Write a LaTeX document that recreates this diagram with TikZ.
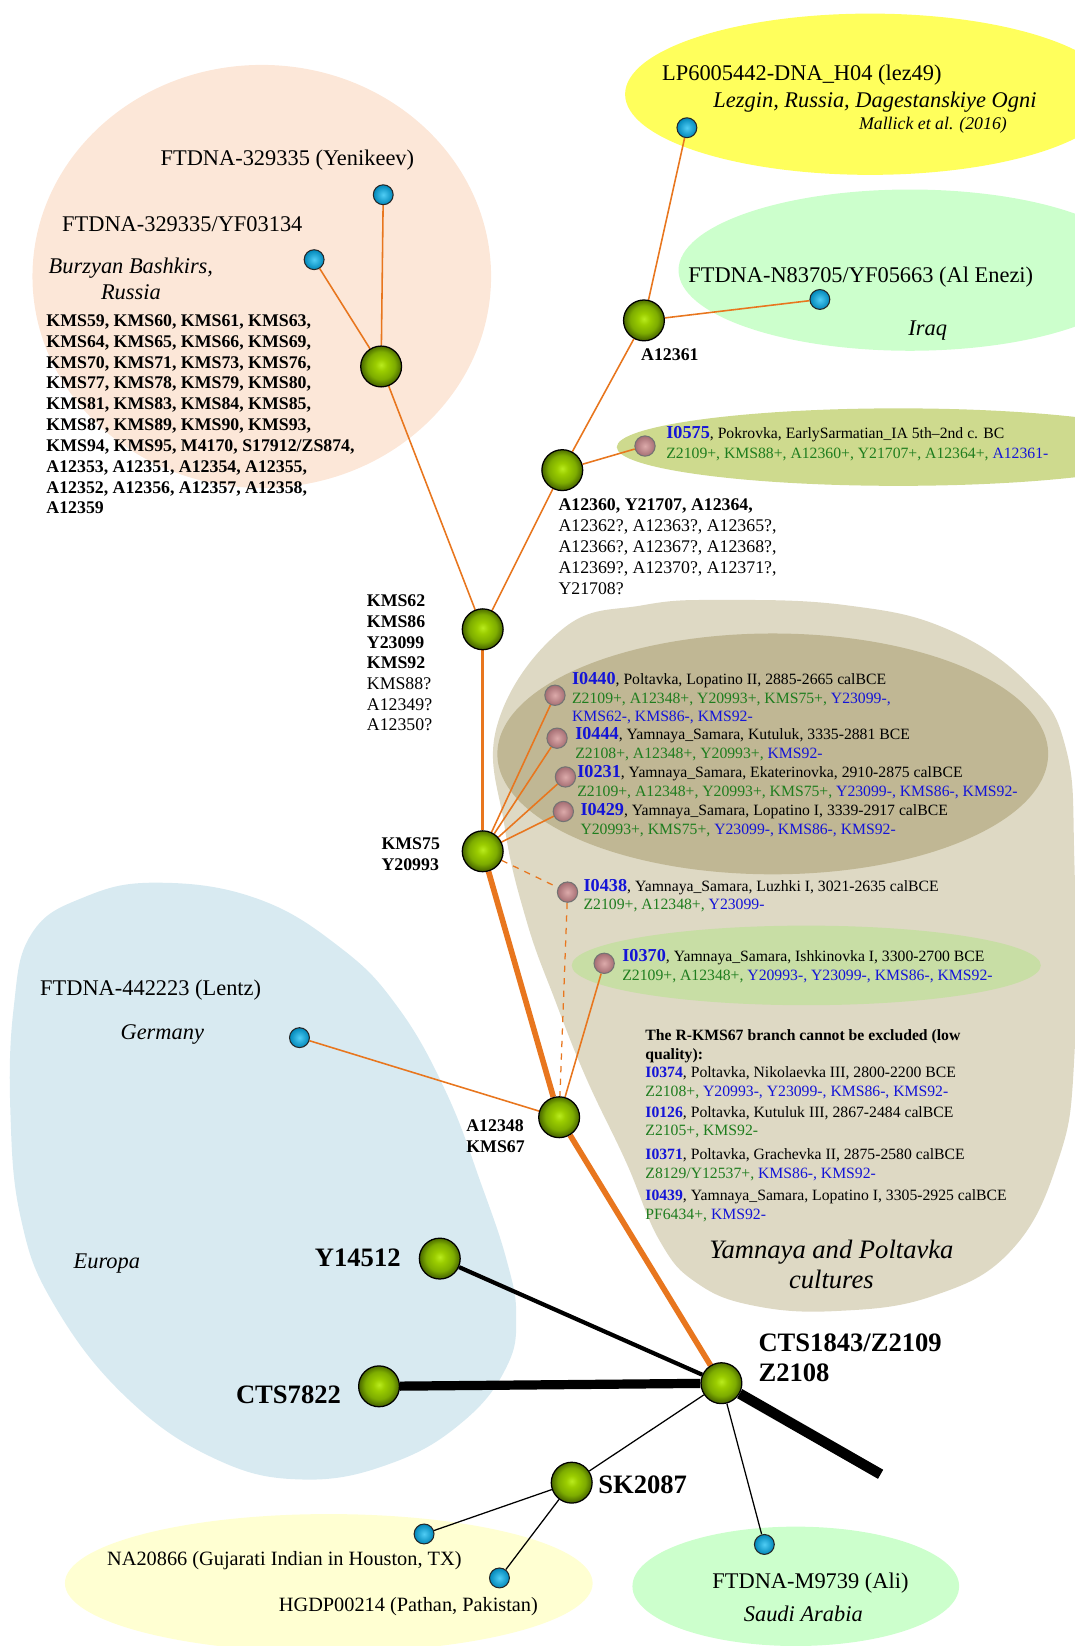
\documentclass[tikz,border=0pt]{standalone}
\usepackage{fontspec}
\setmainfont{Liberation Serif}
\usetikzlibrary{positioning}
\usetikzlibrary{backgrounds}
\pgfdeclarelayer{edges}
\pgfsetlayers{background,edges,main}

\definecolor{peachbg}{RGB}{252,231,216}
\definecolor{lemonbg}{RGB}{255,255,92}
\definecolor{mintbg}{RGB}{204,255,204}
\definecolor{olivebg}{RGB}{206,218,142}
\definecolor{tanbg}{RGB}{222,217,196}
\definecolor{tandark}{RGB}{192,183,148}
\definecolor{sagebg}{RGB}{200,222,165}
\definecolor{skybg}{RGB}{216,234,241}
\definecolor{creambg}{RGB}{255,255,210}
\definecolor{edgeorange}{RGB}{232,118,30}
\definecolor{idblue}{RGB}{20,20,215}
\definecolor{posgreen}{RGB}{30,125,30}
\definecolor{ballhi}{RGB}{185,235,30}
\definecolor{ballmid}{RGB}{155,205,0}
\definecolor{balllow}{RGB}{125,172,0}
\definecolor{balldark}{RGB}{72,102,0}
\definecolor{tiphi}{RGB}{80,205,245}
\definecolor{tipdark}{RGB}{0,135,185}
\definecolor{adnahi}{RGB}{220,170,170}
\definecolor{adnadark}{RGB}{165,110,115}

\pgfdeclareradialshading{greenball}{\pgfpoint{0bp}{2bp}}{color(0bp)=(ballhi); color(7bp)=(ballmid); color(17bp)=(balllow); color(25bp)=(balldark); color(50bp)=(balldark)}
\pgfdeclareradialshading{blueball}{\pgfpoint{0bp}{0bp}}{color(0bp)=(tiphi); color(25bp)=(tipdark); color(50bp)=(tipdark)}
\pgfdeclareradialshading{pinkball}{\pgfpoint{0bp}{0bp}}{color(0bp)=(adnahi); color(25bp)=(adnadark); color(50bp)=(adnadark)}

\newcommand{\sid}[1]{{\fontsize{8.7}{8.7}\selectfont\bfseries\textcolor{idblue}{#1}}}
\newcommand{\lid}[1]{\textbf{\textcolor{idblue}{#1}}}
\newcommand{\possnp}[1]{\textcolor{posgreen}{#1}}
\newcommand{\negsnp}[1]{\textcolor{idblue}{#1}}

\tikzstyle{hap} = [circle, draw=black, line width=0.6pt, minimum size=19.5pt, inner sep=0pt, shading=greenball]
\tikzstyle{tip} = [circle, draw=black!85, line width=0.5pt, minimum size=9.5pt, inner sep=0pt, shading=blueball]
\tikzstyle{adna} = [circle, draw=black!55, line width=0.5pt, minimum size=9.7pt, inner sep=0pt, shading=pinkball]
\tikzstyle{lbl} = [inner sep=0pt, font=\fontsize{10.7}{12.5}\selectfont]
\tikzstyle{place} = [inner sep=0pt, font=\itshape\fontsize{10.7}{12.5}\selectfont]
\tikzstyle{lowlbl} = [inner sep=0pt, font=\fontsize{9.7}{11}\selectfont]
\tikzstyle{snps} = [inner sep=0pt, align=left, anchor=north west, font=\fontsize{8.5}{9.9}\selectfont]
\tikzstyle{smp} = [inner sep=0pt, align=left, anchor=north west, font=\fontsize{7.5}{9}\selectfont]
\tikzstyle{hubl} = [inner sep=0pt, font=\bfseries\fontsize{12.7}{14.5}\selectfont]
\tikzstyle{twig} = [draw=edgeorange, line width=0.75pt]
\tikzstyle{stem} = [draw=edgeorange, line width=1.5pt]
\tikzstyle{trunk} = [draw=edgeorange, line width=2.7pt]
\tikzstyle{maybe} = [draw=edgeorange, line width=0.6pt, dashed]
\tikzstyle{thin} = [draw=black, line width=0.6pt]

\begin{document}
\begin{tikzpicture}[x=0.5pt,y=-0.5pt]
  \useasboundingbox (0,0) rectangle (1026,1572);

  % regions
  \begin{pgfonlayer}{background}
    \fill[peachbg] (250,264) ellipse [x radius=219, y radius=202];
    \fill[lemonbg] (831,90) ellipse [x radius=234, y radius=77];
    \fill[mintbg] (869,258) ellipse [x radius=221, y radius=77];
    \fill[olivebg] (858,427) ellipse [x radius=269, y radius=37];
    \fill[tanbg] plot[smooth cycle, tension=0.7] coordinates {
      (475,692) (537,601) (614,578) (692,573) (808,578) (905,601) (983,654)
      (1018,715) (1026,820) (1026,1010) (1010,1110) (965,1195) (890,1238)
      (800,1252) (720,1247) (665,1225) (630,1185) (598,1110) (560,1030)
      (530,955) (503,880) (482,790)};
    \fill[tandark] (738,720) ellipse [x radius=263, y radius=115];
    \fill[sagebg] (770,922) ellipse [x radius=224, y radius=38];
    \fill[skybg] plot[smooth cycle, tension=0.7] coordinates {
      (150,843) (80,857) (30,892) (13,963) (10,1064) (20,1164) (51,1245)
      (119,1333) (205,1393) (290,1413) (375,1397) (443,1357) (484,1305)
      (493,1256) (484,1204) (460,1132) (426,1043) (380,962) (325,905) (245,858)};
    \fill[creambg] (314,1512) ellipse [x radius=252, y radius=66];
    \fill[mintbg] (760,1515) ellipse [x radius=156, y radius=57];
  \end{pgfonlayer}

  % haplogroup nodes
  \node[hap] (bash) at (364,350) {};
  \node[hap] (a12361) at (615,306) {};
  \node[hap] (a12360) at (537,449) {};
  \node[hap] (kms62) at (461,601) {};
  \node[hap] (kms75) at (461,813) {};
  \node[hap] (a12348) at (534,1067) {};
  \node[hap] (y14512) at (420,1202) {};
  \node[hap] (cts7822) at (362,1324) {};
  \node[hap] (root) at (689,1321) {};
  \node[hap] (sk2087) at (546,1416) {};
  \coordinate (tailend) at (841,1408);

  % modern samples
  \node[tip] (yenikeev) at (366,186) {};
  \node[tip] (yf03134) at (300,248) {};
  \node[tip] (lezgin) at (656,122) {};
  \node[tip] (alenezi) at (783,286) {};
  \node[tip] (lentz) at (286,991) {};
  \node[tip] (na20866) at (405,1465) {};
  \node[tip] (hgdp) at (477,1507) {};
  \node[tip] (ali) at (730,1475) {};

  % ancient samples
  \node[adna] (i0575) at (616,426) {};
  \node[adna] (i0440) at (530,664) {};
  \node[adna] (i0444) at (532,705) {};
  \node[adna] (i0231) at (540,742) {};
  \node[adna] (i0429) at (538,775) {};
  \node[adna] (i0438) at (542,852) {};
  \node[adna] (i0370) at (577,920) {};

  \begin{pgfonlayer}{edges}
    \draw[twig] (bash) -- (yenikeev);
    \draw[twig] (bash) -- (yf03134);
    \draw[twig] (bash) -- (kms62);
    \draw[twig] (kms62) -- (a12360);
    \draw[twig] (a12360) -- (a12361);
    \draw[twig] (a12361) -- (lezgin);
    \draw[twig] (a12361) -- (alenezi);
    \draw[twig] (a12360) -- (i0575);
    \draw[stem] (kms62) -- (kms75);
    \draw[twig] (kms75) -- (i0440);
    \draw[twig] (kms75) -- (i0444);
    \draw[twig] (kms75) -- (i0231);
    \draw[twig] (kms75) -- (i0429);
    \draw[maybe] (kms75) -- (i0438);
    \draw[maybe] (i0438) -- (a12348);
    \draw[twig] (i0370) -- (a12348);
    \draw[twig] (lentz) -- (a12348);
    \draw[trunk] (kms75) -- (a12348);
    \draw[trunk] (a12348) -- (root);
    \draw[black, line width=2pt] (y14512) -- (root);
    \draw[black, line width=4.4pt] (cts7822) -- (root);
    \draw[black, line width=5pt] (root) -- (tailend);
    \draw[thin] (root) -- (sk2087);
    \draw[thin] (root) -- (ali);
    \draw[thin] (sk2087) -- (na20866);
    \draw[thin] (sk2087) -- (hgdp);
  \end{pgfonlayer}

  % Bashkir cluster
  \node[lbl, anchor=base west] (yenikeevlbl) at (153,158) {FTDNA-329335 (Yenikeev)};
  \node[lbl, anchor=base west] (yf03134lbl) at (59,221) {FTDNA-329335/YF03134};
  \node[place, align=center, anchor=north] (bashplace) at (125,246) {Burzyan Bashkirs,\\Russia};
  \node[snps, font=\bfseries\fontsize{8.5}{9.95}\selectfont] (bashsnps) at (44,300) {KMS59, KMS60, KMS61, KMS63,\\KMS64, KMS65, KMS66, KMS69,\\KMS70, KMS71, KMS73, KMS76,\\KMS77, KMS78, KMS79, KMS80,\\KMS81, KMS83, KMS84, KMS85,\\KMS87, KMS89, KMS90, KMS93,\\KMS94, KMS95, M4170, S17912/ZS874,\\A12353, A12351, A12354, A12355,\\A12352, A12356, A12357, A12358,\\A12359};

  % Caucasus and Iraq
  \node[lbl, anchor=base west] (lezginlbl) at (632,77) {LP6005442-DNA\_H04 (lez49)};
  \node[place, anchor=base west] (lezginplace) at (681,103) {Lezgin, Russia, Dagestanskiye Ogni};
  \node[inner sep=0pt, anchor=base west, font=\itshape\fontsize{8.5}{10}\selectfont] (mallick) at (820,124) {Mallick et al. (2016)};
  \node[lbl, anchor=base west] (alenezilbl) at (657,270) {FTDNA-N83705/YF05663 (Al Enezi)};
  \node[place, anchor=base] (iraq) at (886,320) {Iraq};
  \node[snps, anchor=base west, font=\bfseries\fontsize{8.5}{9.9}\selectfont] (a12361lbl) at (612,344) {A12361};
  \node[smp, font=\fontsize{7.5}{9.5}\selectfont] (i0575lbl) at (636,407) {\sid{I0575}, Pokrovka, EarlySarmatian\_IA 5th--2nd c. BC\\\possnp{Z2109+, KMS88+, A12360+, Y21707+, A12364+,} \negsnp{A12361-}};
  \node[snps, font=\fontsize{8.5}{10}\selectfont] (a12360lbl) at (533,476) {\textbf{A12360, Y21707, A12364,}\\A12362?, A12363?, A12365?,\\A12366?, A12367?, A12368?,\\A12369?, A12370?, A12371?,\\Y21708?};
  \node[snps, font=\fontsize{8.5}{9.85}\selectfont] (kms62lbl) at (350,568) {\textbf{KMS62}\\\textbf{KMS86}\\\textbf{Y23099}\\\textbf{KMS92}\\KMS88?\\A12349?\\A12350?};
  \node[snps, font=\bfseries\fontsize{8.5}{10}\selectfont] (kms75lbl) at (364,800) {KMS75\\Y20993};

  % Yamnaya and Poltavka
  \node[smp, font=\fontsize{7.5}{8.75}\selectfont] (i0440lbl) at (546,642) {\sid{I0440}, Poltavka, Lopatino II, 2885-2665 calBCE\\\possnp{Z2109+, A12348+, Y20993+, KMS75+,} \negsnp{Y23099-,}\\\negsnp{KMS62-, KMS86-, KMS92-}};
  \node[smp] (i0444lbl) at (549,694) {\sid{I0444}, Yamnaya\_Samara, Kutuluk, 3335-2881 BCE\\\possnp{Z2108+, A12348+, Y20993+,} \negsnp{KMS92-}};
  \node[smp] (i0231lbl) at (551,731) {\sid{I0231}, Yamnaya\_Samara, Ekaterinovka, 2910-2875 calBCE\\\possnp{Z2109+, A12348+, Y20993+, KMS75+,} \negsnp{Y23099-, KMS86-, KMS92-}};
  \node[smp] (i0429lbl) at (554,767) {\sid{I0429}, Yamnaya\_Samara, Lopatino I, 3339-2917 calBCE\\\possnp{Y20993+, KMS75+,} \negsnp{Y23099-, KMS86-, KMS92-}};
  \node[smp] (i0438lbl) at (557,839) {\sid{I0438}, Yamnaya\_Samara, Luzhki I, 3021-2635 calBCE\\\possnp{Z2109+, A12348+,} \negsnp{Y23099-}};
  \node[smp] (i0370lbl) at (594,906) {\sid{I0370}, Yamnaya\_Samara, Ishkinovka I, 3300-2700 BCE\\\possnp{Z2109+, A12348+,} \negsnp{Y20993-, Y23099-, KMS86-, KMS92-}};
  \node[smp, font=\bfseries\fontsize{7.5}{9}\selectfont] (lowq) at (616,983) {The R-KMS67 branch cannot be excluded (low\\quality):};
  \node[smp] (i0374lbl) at (616,1018) {\lid{I0374}, Poltavka, Nikolaevka III, 2800-2200 BCE\\\possnp{Z2108+,} \negsnp{Y20993-, Y23099-, KMS86-, KMS92-}};
  \node[smp] (i0126lbl) at (616,1056) {\lid{I0126}, Poltavka, Kutuluk III, 2867-2484 calBCE\\\possnp{Z2105+, KMS92-}};
  \node[smp] (i0371lbl) at (616,1097) {\lid{I0371}, Poltavka, Grachevka II, 2875-2580 calBCE\\\possnp{Z8129/Y12537+,} \negsnp{KMS86-, KMS92-}};
  \node[smp] (i0439lbl) at (616,1136) {\lid{I0439}, Yamnaya\_Samara, Lopatino I, 3305-2925 calBCE\\\possnp{PF6434+,} \negsnp{KMS92-}};
  \node[inner sep=0pt, align=center, anchor=north, font=\itshape\fontsize{12.7}{14.5}\selectfont] (yamnaya) at (794,1184) {Yamnaya and Poltavka\\cultures};

  % Europe
  \node[lbl, anchor=base west] (lentzlbl) at (38,951) {FTDNA-442223 (Lentz)};
  \node[place, anchor=base] (germany) at (155,993) {Germany};
  \node[place, anchor=base] (europa) at (102,1211) {Europa};
  \node[snps, font=\bfseries\fontsize{8.5}{10}\selectfont] (a12348lbl) at (445,1069) {A12348\\KMS67};
  \node[hubl, anchor=base east] (y14512lbl) at (383,1210) {Y14512};
  \node[hubl, anchor=base east] (cts7822lbl) at (326,1340) {CTS7822};
  \node[hubl, align=left, anchor=north west] (rootlbl) at (724,1273) {CTS1843/Z2109\\Z2108};
  \node[hubl, anchor=base west] (sk2087lbl) at (571,1426) {SK2087};

  % South Asia and Arabia
  \node[lowlbl, anchor=base west] (na20866lbl) at (102,1495) {NA20866 (Gujarati Indian in Houston, TX)};
  \node[lowlbl, anchor=base west] (hgdplbl) at (266,1539) {HGDP00214 (Pathan, Pakistan)};
  \node[lbl, anchor=base west] (alilbl) at (680,1517) {FTDNA-M9739 (Ali)};
  \node[place, anchor=base west] (saudi) at (710,1549) {Saudi Arabia};
\end{tikzpicture}
\end{document}
